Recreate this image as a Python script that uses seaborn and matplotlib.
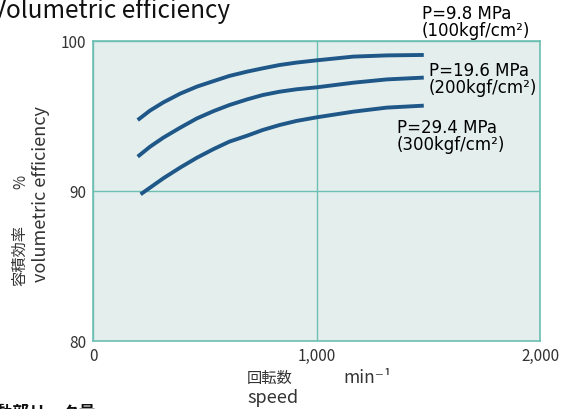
import matplotlib
matplotlib.use('Agg')
import matplotlib.pyplot as plt
import seaborn as sns
import pandas as pd

# values
speed_98 = [200, 255, 315, 390, 465, 540, 610, 690, 760, 835, 910, 1000, 1165, 1315, 1480]
eff_98 = [94.73, 95.36, 95.91, 96.49, 96.96, 97.33, 97.67, 97.96, 98.18, 98.4, 98.56,
          98.71, 98.96, 99.04, 99.07]
speed_196 = [200, 255, 315, 390, 465, 540, 610, 690, 760, 835, 910, 1000, 1165, 1315, 1480]
eff_196 = [92.29, 92.95, 93.56, 94.22, 94.84, 95.33, 95.73, 96.11, 96.4, 96.62, 96.78,
           96.91, 97.22, 97.44, 97.56]
speed_294 = [213, 255, 315, 390, 465, 540, 610, 690, 760, 835, 910, 1000, 1165, 1315, 1480]
eff_294 = [89.78, 90.22, 90.85, 91.56, 92.22, 92.8, 93.29, 93.69, 94.07, 94.4, 94.67,
           94.91, 95.29, 95.56, 95.69]
pressures = ['P=9.8 MPa\n(100kgf/cm²)', 'P=19.6 MPa\n(200kgf/cm²)', 'P=29.4 MPa\n(300kgf/cm²)']
x_ticks = [0, 1000, 2000]
x_ticklabels = ['0', '1,000', '2,000']
y_ticks = [80, 90, 100]

df = pd.concat([
    pd.DataFrame({'speed': speed_98, 'eff': eff_98, 'p': pressures[0]}),
    pd.DataFrame({'speed': speed_196, 'eff': eff_196, 'p': pressures[1]}),
    pd.DataFrame({'speed': speed_294, 'eff': eff_294, 'p': pressures[2]}),
])

sns.set_style('white')
plt.rcParams['font.family'] = ['Noto Sans CJK JP', 'DejaVu Sans']

W, H = 572, 409
fig = plt.figure(figsize=(W / 100, H / 100), dpi=100)
ax = fig.add_axes([93 / W, 1 - 341 / H, (540 - 93) / W, (341 - 41) / H])

teal = '#6cbfb2'
line_col = '#1f5888'
txt_col = '#333333'

ax.set_facecolor('#e4efed')
sns.lineplot(data=df, x='speed', y='eff', hue='p', palette=[line_col] * 3,
             linewidth=2.8, legend=False, ax=ax, sort=False)
for ln in ax.lines:
    ln.set_solid_capstyle('butt')
    ln.set_solid_joinstyle('round')

ax.set_xlim(0, 2000)
ax.set_ylim(80, 100)
ax.set_xticks(x_ticks)
ax.set_xticklabels(x_ticklabels)
ax.set_yticks(y_ticks)
ax.tick_params(length=0, pad=5, labelsize=11, colors=txt_col)
ax.grid(True, color=teal, linewidth=1.0)
for s in ax.spines.values():
    s.set_visible(True)
    s.set_color(teal)
    s.set_linewidth(1.2)
ax.set_xlabel('')
ax.set_ylabel('')


def px(x, y):
    return x / W, 1 - y / H


# pressure labels
lab_pos = [(422, 5), (429, 62), (397, 119)]
for lab, (lx, ly) in zip(pressures, lab_pos):
    fig.text(*px(lx, ly), lab, ha='left', va='top', fontsize=12,
             family='DejaVu Sans', color='black', linespacing=0.95)

# title (cut at the left edge)
fig.text(*px(-8, 18), 'Volumetric efficiency', ha='left', va='baseline',
         fontsize=17.5, color='#111111')

# y label
fig.text(*px(41, 194), 'volumetric efficiency', rotation=90, ha='center',
         va='center', fontsize=13, color=txt_col)
fig.text(*px(20, 255), '容積効率', rotation=90, ha='center', va='center',
         fontsize=11, color=txt_col)
fig.text(*px(21, 182), '%', rotation=90, ha='center', va='center',
         fontsize=11, color=txt_col)

# x label
fig.text(*px(247, 378), '回転数', ha='left', va='center', fontsize=11, color=txt_col)
fig.text(*px(247, 398), 'speed', ha='left', va='center', fontsize=13, color=txt_col)
fig.text(*px(343, 378), 'min⁻¹', ha='left', va='center', fontsize=12.5, color=txt_col)

# next section heading, cut off by the bottom edge
fig.text(*px(-20, 404), '摺動部リーク量', ha='left', va='top', fontsize=12,
         fontweight='bold', color='#111111')

fig.savefig('out.png', dpi=100)
